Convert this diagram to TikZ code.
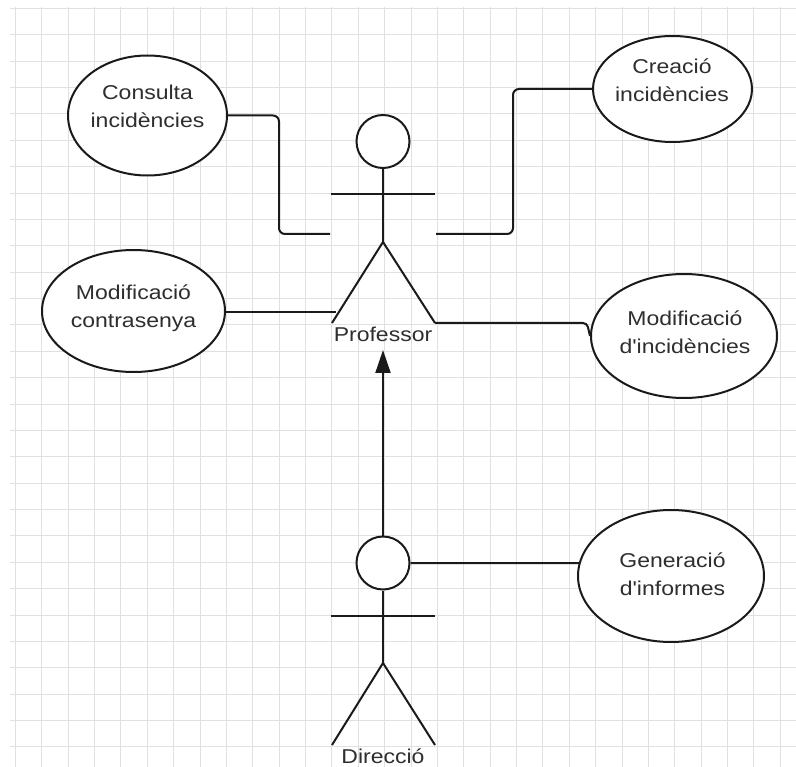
\documentclass[tikz,border=0pt]{standalone}
\usepackage{fontspec}
\newfontfamily\lab[FakeStretch=1.15]{Liberation Sans}
\usetikzlibrary{arrows.meta,shapes.geometric}
\definecolor{gridc}{HTML}{E0E0E0}
\definecolor{txt}{HTML}{2E2E2E}
\definecolor{ln}{HTML}{1A1A1A}
\begin{document}
\begin{tikzpicture}[x=1pt,y=-1pt,
  gridline/.style={draw=gridc, line width=1pt},
  uc/.style={ellipse, draw=ln, line width=2pt, fill=white, inner sep=0pt},
  lbl/.style={font=\lab\fontsize{20}{28}\selectfont, text=txt, align=center, inner sep=0pt},
  stick/.style={draw=ln, line width=2pt},
  conn/.style={draw=ln, line width=2pt, rounded corners=6pt},
  headc/.style={circle, draw=ln, line width=2pt, fill=white, minimum size=53pt, inner sep=0pt}]
\useasboundingbox (0,0) rectangle (796,767);
\fill[white] (0,0) rectangle (796,767);
% grid
\foreach \i in {0,...,29} \draw[gridline] ({15.5+26.37*\i},7) -- ({15.5+26.37*\i},767);
\foreach \j in {0,...,28} \draw[gridline] (10,{8.5+26.37*\j}) -- (796,{8.5+26.37*\j});

% use cases
\node[uc, minimum width=159pt, minimum height=120pt] (cons) at (147.5,115.5) {};
\node[uc, minimum width=159pt, minimum height=106pt] (crea) at (672.5,89) {};
\node[uc, minimum width=183pt, minimum height=122pt] (contra) at (133.5,311) {};
\node[uc, minimum width=186pt, minimum height=124pt] (modi) at (684,336) {};
\node[uc, minimum width=186pt, minimum height=132pt] (gen) at (671,576) {};

% labels (anchor base = baseline of last line)
\node[lbl, anchor=base] (consL) at (147.5,128) {Consulta\\incidències};
\node[lbl, anchor=base] (creaL) at (672,102) {Creació\\incidències};
\node[lbl, anchor=base] (contraL) at (133.5,328) {Modificació\\contrasenya};
\node[lbl, anchor=base] (modiL) at (685,354) {Modificació\\d'incidències};
\node[lbl, anchor=base] (genL) at (672.5,595) {Generació\\d'informes};

% Professor actor
\node[headc] (pHead) at (383,141.5) {};
\coordinate (pHip) at (383,242);
\coordinate (pArmL) at (331,194);
\coordinate (pArmR) at (435,194);
\coordinate (pLegL) at (332,323);
\coordinate (pLegR) at (435,323);
\draw[stick] (pHead.south) -- (pHip);
\draw[stick] (pArmL) -- (pArmR);
\draw[stick] (pLegL) -- (pHip) -- (pLegR);
\node[lbl, anchor=base] (pName) at (383,342) {Professor};

% Direccio actor
\node[headc] (dHead) at (383,563) {};
\coordinate (dHip) at (383,663);
\coordinate (dArmL) at (331,616);
\coordinate (dArmR) at (435,616);
\coordinate (dLegL) at (332,745);
\coordinate (dLegR) at (435,745);
\draw[stick] (dHead.south) -- (dHip);
\draw[stick] (dArmL) -- (dArmR);
\draw[stick] (dLegL) -- (dHip) -- (dLegR);
\node[lbl, anchor=base] (dName) at (383,763) {Direcció};

% connectors
\coordinate (pL) at (330,234);
\coordinate (pR) at (436,234);
\coordinate (pLegPt) at (336,312);
\coordinate (pTip) at (383,350);
\draw[conn] (cons.east) -- (279,115.5) -- (279,234) -- (pL);
\draw[conn] (pR) -- (513,234) -- (513,89) -- (crea.west);
\draw[conn] (contra.east |- pLegPt) -- (pLegPt);
\draw[conn, rounded corners=4pt] (pLegR) -- (587,323) -- (modi.west);
\draw[stick, -{Triangle[length=23pt,width=15pt]}] (dHead.north) -- (pTip);
\draw[conn] (dHead.east) -- (gen.172);
\end{tikzpicture}
\end{document}
